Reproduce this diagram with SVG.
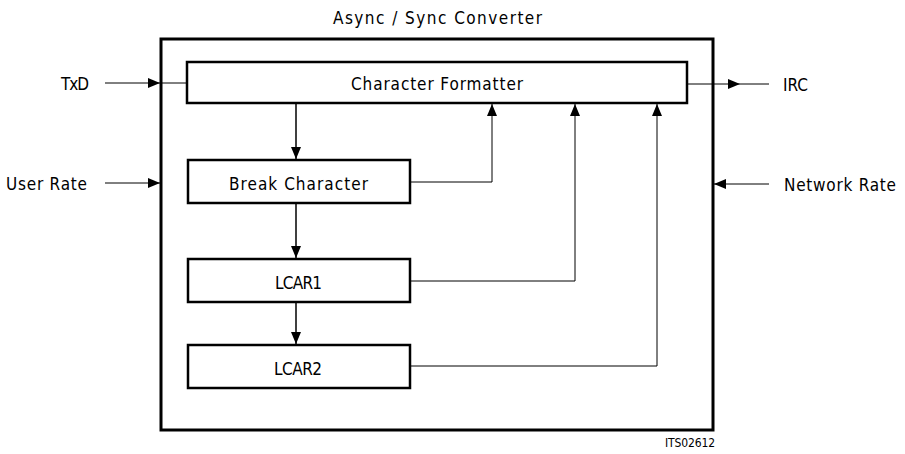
<svg xmlns="http://www.w3.org/2000/svg" width="905" height="454" viewBox="0 0 905 454">
<style>
text{font-family:"Liberation Sans Narrow","DejaVu Sans Condensed","Liberation Sans",Arial,sans-serif;font-size:17px;fill:#000}
.box{fill:#fff;stroke:#000;stroke-width:2.5}
.outer{fill:none;stroke:#000;stroke-width:3}
.thin{fill:none;stroke:#000;stroke-width:1}
.mid{fill:none;stroke:#000;stroke-width:1.5}
</style>
<defs>
<marker id="ah" viewBox="0 0 12 10" refX="12" refY="5" markerWidth="12" markerHeight="10" markerUnits="userSpaceOnUse" orient="auto"><path d="M0,0 L12,5 L0,10 Z" fill="#000"/></marker>
</defs>
<text x="333" y="24" textLength="209" lengthAdjust="spacing">Async / Sync Converter</text>
<g id="converter"><rect class="outer" x="161" y="39" width="552" height="391"/></g>
<g id="charformatter"><rect class="box" x="187" y="62" width="500" height="41"/><text x="351" y="90" textLength="172" lengthAdjust="spacing">Character Formatter</text></g>
<g id="breakchar"><rect class="box" x="188" y="160" width="222" height="43"/><text x="229" y="190" textLength="139" lengthAdjust="spacing">Break Character</text></g>
<g id="lcar1"><rect class="box" x="188" y="259" width="222" height="43"/><text x="275" y="289" textLength="47" lengthAdjust="spacing">LCAR1</text></g>
<g id="lcar2"><rect class="box" x="188" y="345" width="222" height="43"/><text x="274" y="375" textLength="48" lengthAdjust="spacing">LCAR2</text></g>
<g id="labels">
<text x="61" y="90" textLength="28" lengthAdjust="spacing">TxD</text>
<text x="6" y="190" textLength="81" lengthAdjust="spacing">User Rate</text>
<text x="783" y="91" textLength="25" lengthAdjust="spacing">IRC</text>
<text x="784" y="191" textLength="112" lengthAdjust="spacing">Network Rate</text>
<text x="665" y="447" style="font-size:12px" textLength="50" lengthAdjust="spacing">ITS02612</text>
</g>
<g id="connectors">
<path class="thin" d="M105,83 H160" marker-end="url(#ah)"/>
<path class="thin" d="M160,83 H187"/>
<path class="thin" d="M105,183 H160" marker-end="url(#ah)"/>
<path class="thin" d="M687,84 H740" marker-end="url(#ah)"/>
<path class="thin" d="M740,84 H769"/>
<path class="thin" d="M769,184 H714" marker-end="url(#ah)"/>
<path class="mid" d="M296,103 V159" marker-end="url(#ah)"/>
<path class="mid" d="M296,203 V258" marker-end="url(#ah)"/>
<path class="mid" d="M296,302 V344" marker-end="url(#ah)"/>
<path class="thin" d="M410,182 H492 V104" marker-end="url(#ah)"/>
<path class="thin" d="M410,281 H575 V104" marker-end="url(#ah)"/>
<path class="thin" d="M410,366 H657 V104" marker-end="url(#ah)"/>
</g>
</svg>
